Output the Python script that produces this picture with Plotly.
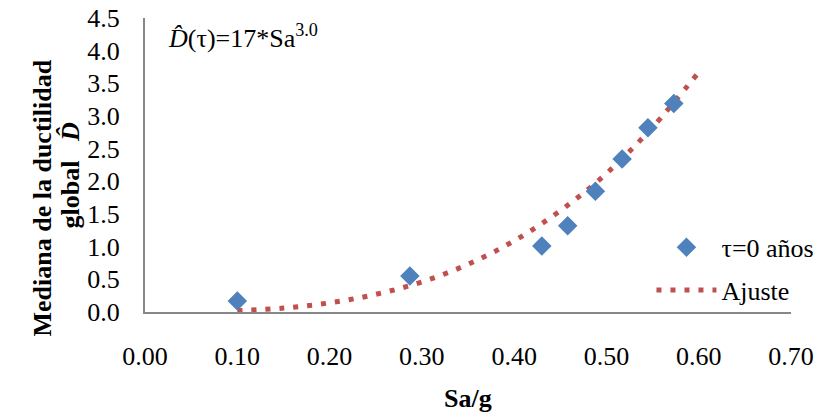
import plotly.graph_objects as go

# Observed data (tau = 0 years)
sa_obs = [0.10, 0.287, 0.430, 0.458, 0.488, 0.517, 0.545, 0.573]
d_obs = [0.17, 0.55, 1.01, 1.32, 1.85, 2.34, 2.82, 3.19]

# Fit curve values
sa_fit = [0.10, 0.15, 0.20, 0.25, 0.30, 0.35, 0.40, 0.45, 0.50, 0.55, 0.60]
d_fit = [0.02, 0.06, 0.14, 0.27, 0.46, 0.73, 1.09, 1.55, 2.12, 2.83, 3.67]

x_ticks = [0.0, 0.1, 0.2, 0.3, 0.4, 0.5, 0.6, 0.7]
y_ticks = [0.0, 0.5, 1.0, 1.5, 2.0, 2.5, 3.0, 3.5, 4.0, 4.5]

FONT = "Liberation Serif"
AXIS_COLOR = "#878787"
FS = 26

# page has an 8px body margin, so the figure is drawn offset by 8px
W, H = 814, 407
L, R, T, B = 137, 31, 10, 103
pw, ph = W - L - R, H - T - B


def px_x(x):
    return (x - L) / pw


def px_y(y):
    return (H - B - y) / ph


fig = go.Figure()
fig.add_trace(go.Scatter(
    x=sa_fit, y=d_fit, mode="lines", name="Ajuste", line_shape="spline",
    line=dict(color="#C0504D", width=5, dash="5px,9px"),
    legendgroup="b", legendrank=2,
))
fig.add_trace(go.Scatter(
    x=sa_obs, y=d_obs, mode="markers", name="τ=0 años",
    marker=dict(symbol="diamond", size=15, color="#4F81BD"),
    legendgroup="a", legendrank=1,
))

fig.update_layout(
    width=W, height=H,
    margin=dict(l=L, r=R, t=T, b=B, autoexpand=False),
    paper_bgcolor="white", plot_bgcolor="white",
    font=dict(family=FONT, size=FS, color="black"),
    showlegend=True,
    legend=dict(
        x=0.784, y=0.30, xanchor="left", yanchor="top",
        bgcolor="rgba(0,0,0,0)", font=dict(size=FS, family=FONT),
        traceorder="grouped", tracegroupgap=6, itemwidth=60,
    ),
    xaxis=dict(
        range=[0, 0.7], tickvals=x_ticks, ticktext=[f"{v:.2f}" for v in x_ticks],
        showgrid=False, zeroline=False, showline=True, linecolor=AXIS_COLOR,
        linewidth=2, ticks="", ticklabelstandoff=20, automargin=False,
        tickfont=dict(size=FS, family=FONT), ticklabeloverflow="allow",
    ),
    yaxis=dict(
        range=[0, 4.5], tickvals=y_ticks, ticktext=[f"{v:.1f}" for v in y_ticks],
        showgrid=False, zeroline=False, showline=True, linecolor=AXIS_COLOR,
        linewidth=2, ticks="", ticklabelstandoff=18, automargin=False,
        tickfont=dict(size=FS, family=FONT), ticklabeloverflow="allow",
    ),
    annotations=[
        dict(x=px_x(158), y=1.0, xref="paper", yref="paper", xanchor="left", yanchor="top",
             text="<i>D̂</i>(τ)=17*Sa<sup>3.0</sup>", showarrow=False,
             font=dict(size=FS, family=FONT)),
        dict(x=px_x(460), y=px_y(390), xref="paper", yref="paper", yanchor="middle",
             text="<b>Sa/g</b>", showarrow=False, font=dict(size=FS, family=FONT)),
        dict(x=px_x(17), y=px_y(190), xref="paper", yref="paper", textangle=-90,
             text="<b>Mediana de la ductilidad</b>", showarrow=False,
             font=dict(size=FS, family=FONT)),
        dict(x=px_x(46), y=px_y(168), xref="paper", yref="paper", textangle=-90,
             text="<b>global   <i>D̂</i></b>", showarrow=False,
             font=dict(size=FS, family=FONT)),
    ],
)

fig.write_html("out.html")
